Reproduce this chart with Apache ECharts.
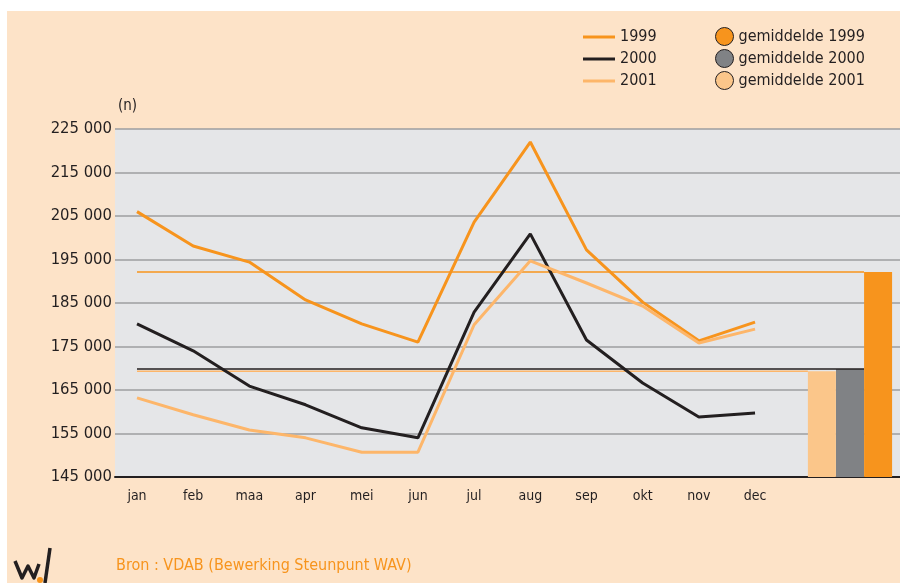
<!DOCTYPE html>
<html>
<head>
<meta charset="utf-8">
<script src="https://cdn.jsdelivr.net/npm/echarts@6/dist/echarts.min.js"></script>
<style>
  html, body { margin: 0; padding: 0; background: #fff; }
  #chart { position: absolute; left: 7px; top: 11px; width: 893px; height: 572px; }
</style>
</head>
<body>
<div id="chart"></div>
<script>
// maanden en reeksen (aantallen)
const months = ['jan', 'feb', 'maa', 'apr', 'mei', 'jun', 'jul', 'aug', 'sep', 'okt', 'nov', 'dec'];
const years = ['1999', '2000', '2001'];
const data1999 = [206000, 198100, 194400, 185700, 180200, 176000, 203600, 222000, 197200, 185200, 176300, 180600];
const data2000 = [180200, 174000, 165900, 161600, 156300, 154000, 182900, 200900, 176500, 166600, 158800, 159700];
const data2001 = [163200, 159300, 155800, 154000, 150700, 150700, 180000, 194700, 189600, 184300, 175800, 179000];
const averages = [192100, 169800, 169300];
const yTicks = [145000, 155000, 165000, 175000, 185000, 195000, 205000, 215000, 225000];

const FONT = "'Liberation Sans Narrow', 'DejaVu Sans Condensed', sans-serif";
const TEXT = '#231f20';
const lineColors = ['#f7941d', '#231f20', '#fdb66a'];
const barColors = ['#f7941d', '#808285', '#fbc68a'];

const chart = echarts.init(document.getElementById('chart'));

// x-as als waardeas: maand i ligt op positie i, gemiddelde-staven rechts ervan
const barPos = [13.19, 12.69, 12.19];
const avgEnd = [12.94, 12.94, 11.94];

const fmt = v => String(v).replace(/\B(?=(\d{3})+(?!\d))/g, ' ');

const lineSeries = [data1999, data2000, data2001].map((d, i) => ({
  name: years[i],
  type: 'line',
  symbol: 'none',
  z: 5,
  lineStyle: { color: lineColors[i], width: 3 },
  itemStyle: { color: lineColors[i] },
  data: d.map((v, k) => [k, v])
}));

const avgSeries = averages.map((v, i) => ({
  name: 'gemiddelde ' + years[i],
  type: 'line',
  symbol: 'none',
  z: 3 - i * 0.1,
  lineStyle: { color: lineColors[i], width: 1.5 },
  itemStyle: { color: barColors[i] },
  data: [[0, v], [avgEnd[i], v]]
}));

const legendText = { fontFamily: FONT, fontSize: 16, color: TEXT };

const option = {
  backgroundColor: '#fde3c8',
  animation: false,
  textStyle: { fontFamily: FONT, color: TEXT },
  grid: {
    left: 108, right: 0, top: 118, bottom: 106,
    show: true, backgroundColor: '#e5e6e8', borderWidth: 0
  },
  legend: [
    {
      data: years.map((y, i) => ({
        name: y,
        icon: 'path://M0,0 L32,0 L32,3 L0,3 Z',
        itemStyle: { color: lineColors[i], borderWidth: 0 }
      })),
      orient: 'vertical',
      left: 576, top: 18, padding: 0,
      itemWidth: 32, itemHeight: 18, itemGap: 6,
      textStyle: legendText
    },
    {
      data: avgSeries.map((s, i) => ({
        name: s.name, icon: 'circle',
        itemStyle: { color: barColors[i], borderColor: TEXT, borderWidth: 1 }
      })),
      orient: 'vertical',
      left: 708, top: 16, padding: 0,
      itemWidth: 18, itemHeight: 18, itemGap: 3,
      textStyle: legendText
    }
  ],
  xAxis: {
    type: 'value',
    min: -0.3916, max: 13.58,
    splitLine: { show: false },
    axisLine: { show: true, onZero: false, lineStyle: { color: TEXT, width: 2 } },
    axisTick: { show: false },
    axisLabel: {
      customValues: months.map((m, i) => i),
      formatter: v => months[Math.round(v)],
      fontFamily: FONT, fontSize: 14, color: TEXT, margin: 12
    }
  },
  yAxis: {
    type: 'value',
    min: yTicks[0], max: yTicks[yTicks.length - 1], interval: 10000,
    axisLine: { show: false },
    axisTick: { show: false },
    splitLine: { lineStyle: { color: '#9c9ea1', width: 1.5 } },
    axisLabel: { formatter: fmt, fontFamily: FONT, fontSize: 16.5, color: TEXT, margin: 3 }
  },
  series: [
    {
      type: 'bar',
      barWidth: 28,
      z: 2,
      data: averages.map((v, i) => ({ value: [barPos[i], v], itemStyle: { color: barColors[i] } }))
    },
    ...avgSeries,
    ...lineSeries
  ],
  graphic: [
    {
      type: 'text', left: 111, top: 88,
      style: { text: '(n)', fill: TEXT, font: '15px ' + FONT }
    },
    {
      type: 'text', left: 109, top: 547,
      style: { text: 'Bron : VDAB (Bewerking Steunpunt WAV)', fill: '#f7941d', font: '16px ' + FONT }
    },
    {
      type: 'polyline', silent: true,
      shape: { points: [[8, 550], [15, 567], [21, 555], [27, 567], [32, 553]] },
      style: { stroke: TEXT, lineWidth: 3.5, fill: null, lineJoin: 'round' }
    },
    {
      type: 'polyline', silent: true,
      shape: { points: [[43, 537], [38, 572]] },
      style: { stroke: TEXT, lineWidth: 3.5, fill: null }
    },
    { type: 'circle', shape: { cx: 33, cy: 569, r: 3 }, style: { fill: '#f7941d' } }
  ]
};

chart.setOption(option);
</script>
</body>
</html>
